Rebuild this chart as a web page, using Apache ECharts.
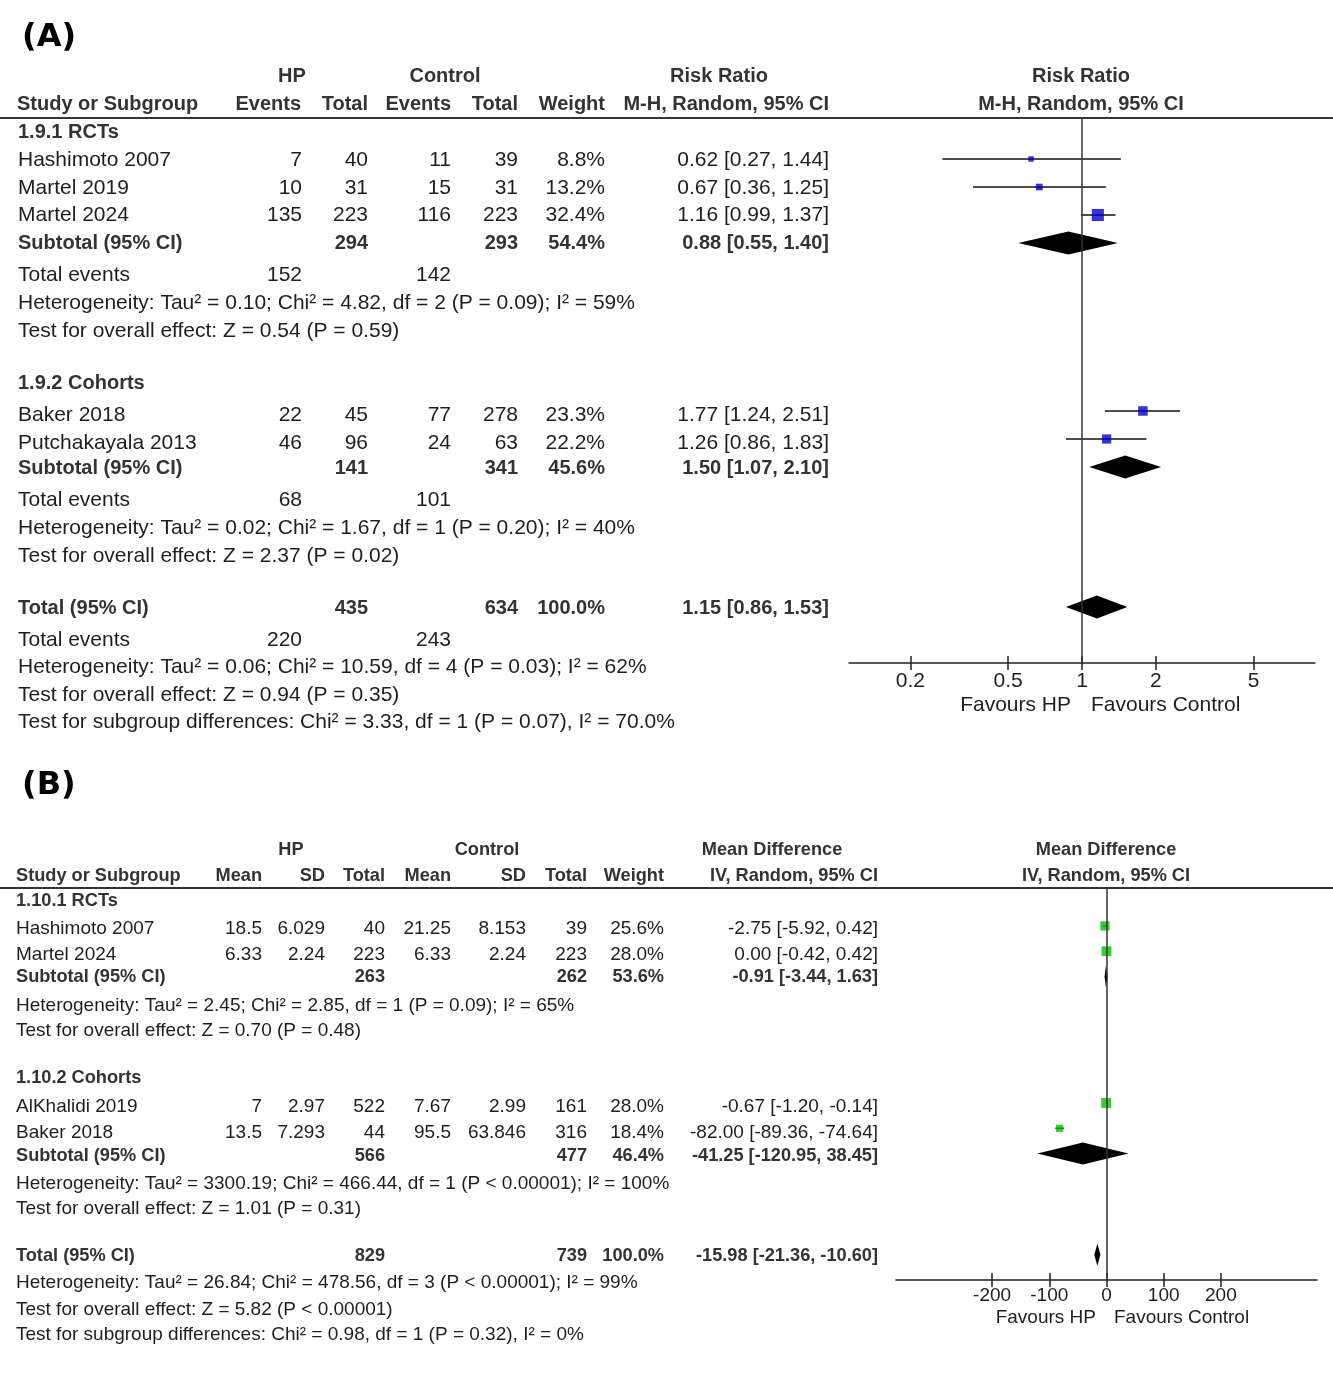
<!DOCTYPE html>
<html><head><meta charset="utf-8">
<script src="https://cdn.jsdelivr.net/npm/echarts@6/dist/echarts.min.js"></script>
<style>html,body{margin:0;padding:0;background:#fff}#c{width:1333px;height:1378px}</style>
</head><body><div id="c"></div>
<script>
// ================= DATA: Panel A (Risk Ratio) =================
const aGroupNames = ['1.9.1 RCTs', '1.9.2 Cohorts'];
const aStudies   = ['Hashimoto 2007', 'Martel 2019', 'Martel 2024', 'Baker 2018', 'Putchakayala 2013'];
const aStudyGroup = [0, 0, 0, 1, 1];
const aHpEvents  = [7, 10, 135, 22, 46];
const aHpTotal   = [40, 31, 223, 45, 96];
const aCtlEvents = [11, 15, 116, 77, 24];
const aCtlTotal  = [39, 31, 223, 278, 63];
const aWeight    = [8.8, 13.2, 32.4, 23.3, 22.2];
const aRR        = [0.62, 0.67, 1.16, 1.77, 1.26];
const aLow       = [0.27, 0.36, 0.99, 1.24, 0.86];
const aHigh      = [1.44, 1.25, 1.37, 2.51, 1.83];
const aSubHpTotal  = [294, 141];
const aSubCtlTotal = [293, 341];
const aSubWeight   = [54.4, 45.6];
const aSubRR       = [0.88, 1.50];
const aSubLow      = [0.55, 1.07];
const aSubHigh     = [1.40, 2.10];
const aSubHpEvents = [152, 68];
const aSubCtlEvents = [142, 101];
const aSubHet  = ['Heterogeneity: Tau² = 0.10; Chi² = 4.82, df = 2 (P = 0.09); I² = 59%',
                  'Heterogeneity: Tau² = 0.02; Chi² = 1.67, df = 1 (P = 0.20); I² = 40%'];
const aSubTest = ['Test for overall effect: Z = 0.54 (P = 0.59)',
                  'Test for overall effect: Z = 2.37 (P = 0.02)'];
const aTotal   = [435, 634];          // HP total, Control total
const aTotalWeight = 100.0;
const aTotalEffect = [1.15, 0.86, 1.53]; // RR, low, high
const aTotalEvents = [220, 243];
const aTotalNotes = ['Heterogeneity: Tau² = 0.06; Chi² = 10.59, df = 4 (P = 0.03); I² = 62%',
                     'Test for overall effect: Z = 0.94 (P = 0.35)',
                     'Test for subgroup differences: Chi² = 3.33, df = 1 (P = 0.07), I² = 70.0%'];
const aTicks = [0.2, 0.5, 1, 2, 5];

// ================= DATA: Panel B (Mean Difference) =================
const bGroupNames = ['1.10.1 RCTs', '1.10.2 Cohorts'];
const bStudies   = ['Hashimoto 2007', 'Martel 2024', 'AlKhalidi 2019', 'Baker 2018'];
const bStudyGroup = [0, 0, 1, 1];
const bHpMean   = ['18.5', '6.33', '7', '13.5'];
const bHpSD     = ['6.029', '2.24', '2.97', '7.293'];
const bHpTotal  = [40, 223, 522, 44];
const bCtlMean  = ['21.25', '6.33', '7.67', '95.5'];
const bCtlSD    = ['8.153', '2.24', '2.99', '63.846'];
const bCtlTotal = [39, 223, 161, 316];
const bWeight   = [25.6, 28.0, 28.0, 18.4];
const bMD       = [-2.75, 0.00, -0.67, -82.00];
const bLow      = [-5.92, -0.42, -1.20, -89.36];
const bHigh     = [0.42, 0.42, -0.14, -74.64];
const bSubHpTotal  = [263, 566];
const bSubCtlTotal = [262, 477];
const bSubWeight   = [53.6, 46.4];
const bSubMD       = [-0.91, -41.25];
const bSubLow      = [-3.44, -120.95];
const bSubHigh     = [1.63, 38.45];
const bSubHet  = ['Heterogeneity: Tau² = 2.45; Chi² = 2.85, df = 1 (P = 0.09); I² = 65%',
                  'Heterogeneity: Tau² = 3300.19; Chi² = 466.44, df = 1 (P < 0.00001); I² = 100%'];
const bSubTest = ['Test for overall effect: Z = 0.70 (P = 0.48)',
                  'Test for overall effect: Z = 1.01 (P = 0.31)'];
const bTotal   = [829, 739];
const bTotalWeight = 100.0;
const bTotalEffect = [-15.98, -21.36, -10.60];
const bTotalNotes = ['Heterogeneity: Tau² = 26.84; Chi² = 478.56, df = 3 (P < 0.00001); I² = 99%',
                     'Test for overall effect: Z = 5.82 (P < 0.00001)',
                     'Test for subgroup differences: Chi² = 0.98, df = 1 (P = 0.32), I² = 0%'];
const bTicks = [-200, -100, 0, 100, 200];

// ================= LAYOUT =================
const FAM = '"Liberation Sans", Arial, sans-serif';
const regA = '21px ' + FAM, boldA = 'bold 20px ' + FAM;
const regB = '19px ' + FAM, boldB = 'bold 18.2px ' + FAM;
const TXT = '#1e1e1e', BTXT = '#333';

function buildRows(nGroups, studyGroup, withEvents, nNotes) {
  const rows = [];
  for (let g = 0; g < nGroups; g++) {
    rows.push({kind: 'group', g});
    studyGroup.forEach((sg, i) => { if (sg === g) rows.push({kind: 'study', i}); });
    rows.push({kind: 'sub', g});
    if (withEvents) rows.push({kind: 'te', g});
    rows.push({kind: 'het', g});
    rows.push({kind: 'test', g});
    rows.push({kind: 'blank'});
  }
  rows.push({kind: 'total'});
  if (withEvents) rows.push({kind: 'tte'});
  for (let n = 0; n < nNotes; n++) rows.push({kind: 'note', n});
  return rows;
}
const rowsA = buildRows(2, aStudyGroup, true, aTotalNotes.length);
const rowsB = buildRows(2, bStudyGroup, false, bTotalNotes.length);
const idx = (rows, f) => rows.findIndex(f);

// text centres (pixels) of each table row
const yA = [132,160,188,215,243,275,303,331,0,383,415,443,468,500,528,556,0,608,640,667,695,722];
const yB = [901,929,955,977,1006,1031,0,1078,1107,1133,1156,1184,1209,0,1256,1283,1310,1335];

const f2 = v => v.toFixed(2);
const ci = (e, l, h) => f2(e) + ' [' + f2(l) + ', ' + f2(h) + ']';
const pct = w => w.toFixed(1) + '%';

function txt(text, x, y, font, align, color) {
  return {type: 'text', x, y, silent: true, z: 10,
    style: {text: String(text), font, fill: color || TXT, align: align || 'left', verticalAlign: 'middle'}};
}
function hline(x1, x2, y, w) {
  return {type: 'line', silent: true, z: 10, shape: {x1, y1: y, x2, y2: y}, style: {stroke: '#333', lineWidth: w}};
}

const G = [];
// ---- Panel A texts ----
G.push(txt('(A)', 22, 38, 'bold 32px "DejaVu Sans"', 'left', '#000'));
G.push(txt('HP', 292, 76, boldA, 'center', BTXT));
G.push(txt('Control', 445, 76, boldA, 'center', BTXT));
G.push(txt('Risk Ratio', 719, 76, boldA, 'center', BTXT));
G.push(txt('Risk Ratio', 1081, 76, boldA, 'center', BTXT));
G.push(txt('Study or Subgroup', 17, 104, boldA, 'left', BTXT));
G.push(txt('Events', 301, 104, boldA, 'right', BTXT));
G.push(txt('Total', 368, 104, boldA, 'right', BTXT));
G.push(txt('Events', 451, 104, boldA, 'right', BTXT));
G.push(txt('Total', 518, 104, boldA, 'right', BTXT));
G.push(txt('Weight', 605, 104, boldA, 'right', BTXT));
G.push(txt('M-H, Random, 95% CI', 829, 104, boldA, 'right', BTXT));
G.push(txt('M-H, Random, 95% CI', 1081, 104, boldA, 'center', BTXT));
G.push(hline(0, 1333, 118, 2));
const cA = {he: 302, ht: 368, ce: 451, ct: 518, w: 605, ci: 829};
rowsA.forEach((r, k) => {
  const y = yA[k];
  if (r.kind === 'group') G.push(txt(aGroupNames[r.g], 18, y, boldA, 'left', BTXT));
  else if (r.kind === 'study') {
    const i = r.i;
    G.push(txt(aStudies[i], 18, y, regA));
    G.push(txt(aHpEvents[i], cA.he, y, regA, 'right'));
    G.push(txt(aHpTotal[i], cA.ht, y, regA, 'right'));
    G.push(txt(aCtlEvents[i], cA.ce, y, regA, 'right'));
    G.push(txt(aCtlTotal[i], cA.ct, y, regA, 'right'));
    G.push(txt(pct(aWeight[i]), cA.w, y, regA, 'right'));
    G.push(txt(ci(aRR[i], aLow[i], aHigh[i]), cA.ci, y, regA, 'right'));
  } else if (r.kind === 'sub') {
    const g = r.g;
    G.push(txt('Subtotal (95% CI)', 18, y, boldA, 'left', BTXT));
    G.push(txt(aSubHpTotal[g], cA.ht, y, boldA, 'right', BTXT));
    G.push(txt(aSubCtlTotal[g], cA.ct, y, boldA, 'right', BTXT));
    G.push(txt(pct(aSubWeight[g]), cA.w, y, boldA, 'right', BTXT));
    G.push(txt(ci(aSubRR[g], aSubLow[g], aSubHigh[g]), cA.ci, y, boldA, 'right', BTXT));
  } else if (r.kind === 'te') {
    G.push(txt('Total events', 18, y, regA));
    G.push(txt(aSubHpEvents[r.g], cA.he, y, regA, 'right'));
    G.push(txt(aSubCtlEvents[r.g], cA.ce, y, regA, 'right'));
  } else if (r.kind === 'het') G.push(txt(aSubHet[r.g], 18, y, regA));
  else if (r.kind === 'test') G.push(txt(aSubTest[r.g], 18, y, regA));
  else if (r.kind === 'total') {
    G.push(txt('Total (95% CI)', 18, y, boldA, 'left', BTXT));
    G.push(txt(aTotal[0], cA.ht, y, boldA, 'right', BTXT));
    G.push(txt(aTotal[1], cA.ct, y, boldA, 'right', BTXT));
    G.push(txt(pct(aTotalWeight), cA.w, y, boldA, 'right', BTXT));
    G.push(txt(ci(aTotalEffect[0], aTotalEffect[1], aTotalEffect[2]), cA.ci, y, boldA, 'right', BTXT));
  } else if (r.kind === 'tte') {
    G.push(txt('Total events', 18, y, regA));
    G.push(txt(aTotalEvents[0], cA.he, y, regA, 'right'));
    G.push(txt(aTotalEvents[1], cA.ce, y, regA, 'right'));
  } else if (r.kind === 'note') G.push(txt(aTotalNotes[r.n], 18, y, regA));
});
G.push(txt('Favours HP', 1071, 705, regA, 'right'));
G.push(txt('Favours Control', 1091, 705, regA, 'left'));

// ---- Panel B texts ----
G.push(txt('(B)', 22, 786, 'bold 32px "DejaVu Sans"', 'left', '#000'));
G.push(txt('HP', 291, 850, boldB, 'center', BTXT));
G.push(txt('Control', 487, 850, boldB, 'center', BTXT));
G.push(txt('Mean Difference', 772, 850, boldB, 'center', BTXT));
G.push(txt('Mean Difference', 1106, 850, boldB, 'center', BTXT));
G.push(txt('Study or Subgroup', 16, 876, boldB, 'left', BTXT));
const cB = {m: 262, s: 325, t: 385, cm: 451, cs: 526, ct: 587, w: 664, ci: 878};
G.push(txt('Mean', cB.m, 876, boldB, 'right', BTXT));
G.push(txt('SD', cB.s, 876, boldB, 'right', BTXT));
G.push(txt('Total', cB.t, 876, boldB, 'right', BTXT));
G.push(txt('Mean', cB.cm, 876, boldB, 'right', BTXT));
G.push(txt('SD', cB.cs, 876, boldB, 'right', BTXT));
G.push(txt('Total', cB.ct, 876, boldB, 'right', BTXT));
G.push(txt('Weight', cB.w, 876, boldB, 'right', BTXT));
G.push(txt('IV, Random, 95% CI', cB.ci, 876, boldB, 'right', BTXT));
G.push(txt('IV, Random, 95% CI', 1106, 876, boldB, 'center', BTXT));
G.push(hline(0, 1333, 888, 2));
rowsB.forEach((r, k) => {
  const y = yB[k];
  if (r.kind === 'group') G.push(txt(bGroupNames[r.g], 16, y, boldB, 'left', BTXT));
  else if (r.kind === 'study') {
    const i = r.i;
    G.push(txt(bStudies[i], 16, y, regB));
    G.push(txt(bHpMean[i], cB.m, y, regB, 'right'));
    G.push(txt(bHpSD[i], cB.s, y, regB, 'right'));
    G.push(txt(bHpTotal[i], cB.t, y, regB, 'right'));
    G.push(txt(bCtlMean[i], cB.cm, y, regB, 'right'));
    G.push(txt(bCtlSD[i], cB.cs, y, regB, 'right'));
    G.push(txt(bCtlTotal[i], cB.ct, y, regB, 'right'));
    G.push(txt(pct(bWeight[i]), cB.w, y, regB, 'right'));
    G.push(txt(ci(bMD[i], bLow[i], bHigh[i]), cB.ci, y, regB, 'right'));
  } else if (r.kind === 'sub') {
    const g = r.g;
    G.push(txt('Subtotal (95% CI)', 16, y, boldB, 'left', BTXT));
    G.push(txt(bSubHpTotal[g], cB.t, y, boldB, 'right', BTXT));
    G.push(txt(bSubCtlTotal[g], cB.ct, y, boldB, 'right', BTXT));
    G.push(txt(pct(bSubWeight[g]), cB.w, y, boldB, 'right', BTXT));
    G.push(txt(ci(bSubMD[g], bSubLow[g], bSubHigh[g]), cB.ci, y, boldB, 'right', BTXT));
  } else if (r.kind === 'het') G.push(txt(bSubHet[r.g], 16, y, regB));
  else if (r.kind === 'test') G.push(txt(bSubTest[r.g], 16, y, regB));
  else if (r.kind === 'total') {
    G.push(txt('Total (95% CI)', 16, y, boldB, 'left', BTXT));
    G.push(txt(bTotal[0], cB.t, y, boldB, 'right', BTXT));
    G.push(txt(bTotal[1], cB.ct, y, boldB, 'right', BTXT));
    G.push(txt(pct(bTotalWeight), cB.w, y, boldB, 'right', BTXT));
    G.push(txt(ci(bTotalEffect[0], bTotalEffect[1], bTotalEffect[2]), cB.ci, y, boldB, 'right', BTXT));
  } else if (r.kind === 'note') G.push(txt(bTotalNotes[r.n], 16, y, regB));
});
G.push(txt('Favours HP', 1096, 1318, regB, 'right'));
G.push(txt('Favours Control', 1114, 1318, regB, 'left'));

// ================= CHART =================
function ciLine(params, api) {
  const p1 = api.coord([api.value(0), api.value(3)]);
  const p2 = api.coord([api.value(1), api.value(3)]);
  return {type: 'line', shape: {x1: p1[0], y1: p1[1], x2: p2[0], y2: p2[1]},
          style: {stroke: '#111', lineWidth: 1.5}};
}
function diamond(h) {
  return function (params, api) {
    const l = api.coord([api.value(0), api.value(3)]);
    const r = api.coord([api.value(1), api.value(3)]);
    const c = api.coord([api.value(2), api.value(3)]);
    return {type: 'polygon', shape: {points: [[l[0], c[1]], [c[0], c[1] - h / 2], [r[0], c[1]], [c[0], c[1] + h / 2]]},
            style: {fill: '#000'}};
  };
}

const aStudyRows = aStudies.map((_, i) => idx(rowsA, r => r.kind === 'study' && r.i === i));
const aSubRows = aSubRR.map((_, g) => idx(rowsA, r => r.kind === 'sub' && r.g === g));
const aTotRow = idx(rowsA, r => r.kind === 'total');
const bStudyRows = bStudies.map((_, i) => idx(rowsB, r => r.kind === 'study' && r.i === i));
const bSubRows = bSubMD.map((_, g) => idx(rowsB, r => r.kind === 'sub' && r.g === g));
const bTotRow = idx(rowsB, r => r.kind === 'total');

const axisFontA = {fontFamily: 'Liberation Sans', fontSize: 21, color: TXT};
const axisFontB = {fontFamily: 'Liberation Sans', fontSize: 19, color: TXT};
const fmt = v => String(+(+v).toPrecision(6));
const tickStyle = {color: '#222', width: 1.5};

const option = {
  animation: false,
  backgroundColor: '#fff',
  graphic: G,
  grid: [
    {left: 849, right: 18, top: 117, bottom: 715},
    {left: 896, right: 16, top: 888, bottom: 98}
  ],
  xAxis: [
    {gridIndex: 0, type: 'log', logBase: 10, min: 0.1125, max: 8.89, position: 'bottom',
     axisLine: {onZero: false, lineStyle: {color: '#222', width: 1.5}},
     axisTick: {show: true, length: 7, customValues: aTicks, lineStyle: tickStyle},
     axisLabel: Object.assign({customValues: aTicks, margin: 8, formatter: fmt}, axisFontA),
     splitLine: {show: false}, minorTick: {show: false}},
    {gridIndex: 0, type: 'log', logBase: 10, min: 0.1125, max: 8.89, position: 'top', offset: -546,
     axisLine: {show: false, onZero: false},
     axisTick: {show: true, inside: false, length: 7, customValues: aTicks, lineStyle: tickStyle},
     axisLabel: {show: false}, splitLine: {show: false}},
    {gridIndex: 1, type: 'value', min: -368, max: 368, position: 'bottom',
     axisLine: {onZero: false, lineStyle: {color: '#222', width: 1.5}},
     axisTick: {show: true, length: 7, customValues: bTicks, lineStyle: tickStyle},
     axisLabel: Object.assign({customValues: bTicks, margin: 6, formatter: fmt}, axisFontB),
     splitLine: {show: false}},
    {gridIndex: 1, type: 'value', min: -368, max: 368, position: 'top', offset: -392,
     axisLine: {show: false, onZero: false},
     axisTick: {show: true, inside: false, length: 7, customValues: bTicks, lineStyle: tickStyle},
     axisLabel: {show: false}, splitLine: {show: false}}
  ],
  yAxis: [
    {gridIndex: 0, type: 'value', inverse: true, min: -0.5, max: 19, show: false, splitLine: {show: false}},
    {gridIndex: 1, type: 'value', inverse: true, min: -0.5, max: 15, show: false, splitLine: {show: false}}
  ],
  series: [
    // ---- Panel A ----
    {type: 'custom', xAxisIndex: 0, yAxisIndex: 0, renderItem: ciLine, z: 3,
     encode: {x: [0, 1, 2], y: 3},
     data: aStudies.map((_, i) => [aLow[i], aHigh[i], aRR[i], aStudyRows[i]])},
    {type: 'scatter', xAxisIndex: 0, yAxisIndex: 0, symbol: 'rect', z: 4,
     symbolSize: v => 3 + 0.28 * v[2], itemStyle: {color: '#0000cc'},
     data: aStudies.map((_, i) => [aRR[i], aStudyRows[i], aWeight[i]]),
     markLine: {silent: true, symbol: 'none', label: {show: false},
                lineStyle: {color: '#333', width: 1.5, type: 'solid'}, data: [{xAxis: 1}]}},
    {type: 'custom', xAxisIndex: 0, yAxisIndex: 0, renderItem: diamond(23), z: 4,
     encode: {x: [0, 1, 2], y: 3},
     data: aSubRR.map((_, g) => [aSubLow[g], aSubHigh[g], aSubRR[g], aSubRows[g]])
           .concat([[aTotalEffect[1], aTotalEffect[2], aTotalEffect[0], aTotRow]])},
    // ---- Panel B ----
    {type: 'custom', xAxisIndex: 2, yAxisIndex: 1, renderItem: ciLine, z: 3,
     encode: {x: [0, 1, 2], y: 3},
     data: bStudies.map((_, i) => [bLow[i], bHigh[i], bMD[i], bStudyRows[i]])},
    {type: 'scatter', xAxisIndex: 2, yAxisIndex: 1, symbol: 'rect', z: 4,
     symbolSize: v => 2 + 0.28 * v[2], itemStyle: {color: '#00c000'},
     data: bStudies.map((_, i) => [bMD[i], bStudyRows[i], bWeight[i]]),
     markLine: {silent: true, symbol: 'none', label: {show: false},
                lineStyle: {color: '#333', width: 1.5, type: 'solid'}, data: [{xAxis: 0}]}},
    {type: 'custom', xAxisIndex: 2, yAxisIndex: 1, renderItem: diamond(22), z: 4,
     encode: {x: [0, 1, 2], y: 3},
     data: bSubMD.map((_, g) => [bSubLow[g], bSubHigh[g], bSubMD[g], bSubRows[g]])
           .concat([[bTotalEffect[1], bTotalEffect[2], bTotalEffect[0], bTotRow]])}
  ]
};
const chart = echarts.init(document.getElementById('c'), null, {renderer: 'canvas'});
chart.setOption(option);
</script>
</body></html>
